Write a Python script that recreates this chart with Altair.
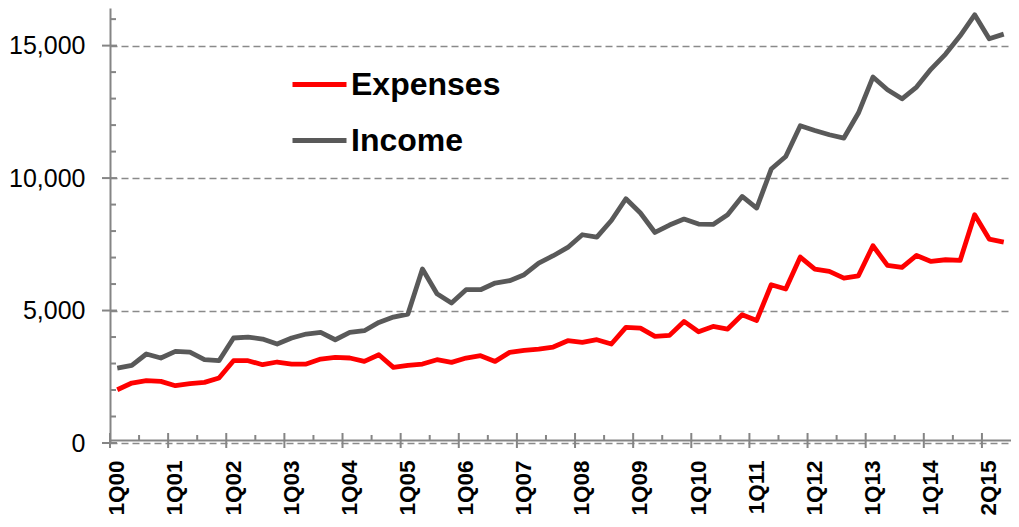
import json
import altair as alt
import pandas as pd

# ---- data -------------------------------------------------------------
quarters = [f"{q}Q{y:02d}" for y in range(0, 16) for q in (1, 2, 3, 4)][:62]

expenses = [2011, 2264, 2351, 2325, 2163, 2238, 2287, 2453, 3106, 3106,
            2955, 3057, 2981, 2981, 3170, 3231, 3208, 3080, 3332, 2853,
            2929, 2981, 3144, 3043, 3208, 3295, 3080, 3420, 3495, 3547,
            3623, 3861, 3798, 3898, 3736, 4364, 4339, 4024, 4062, 4590,
            4200, 4401, 4301, 4842, 4627, 5974, 5811, 7019, 6567, 6476,
            6226, 6313, 7446, 6702, 6627, 7080, 6853, 6917, 6891, 8616,
            7699, 7586]

income = [2830, 2929, 3359, 3208, 3457, 3434, 3144, 3106, 3963, 4000,
          3925, 3736, 3963, 4114, 4174, 3898, 4174, 4238, 4551, 4755,
          4868, 6567, 5635, 5283, 5786, 5786, 6038, 6125, 6352, 6793,
          7069, 7382, 7861, 7774, 8400, 9220, 8680, 7948, 8227, 8454,
          8265, 8250, 8616, 9307, 8869, 10341, 10816, 11975, 11798, 11635,
          11510, 12454, 13813, 13334, 12994, 13435, 14115, 14681, 15371, 16162,
          15259, 15435]

series_names = ["Expenses", "Income"]
series_colors = ["#FF0000", "#595959"]

tick_labels = ["1Q00", "1Q01", "1Q02", "1Q03", "1Q04", "1Q05", "1Q06", "1Q07",
               "1Q08", "1Q09", "1Q10", "1Q11", "1Q12", "1Q13", "1Q14", "2Q15"]
label_at = quarters[0::4]          # categories that carry a tick label
minor_at = quarters[2::4]          # categories with a minor tick

y_grid = [0, 5000, 10000, 15000]
y_minor = [v for v in range(1000, 17000, 1000) if v % 5000 != 0]

# ---- frames -----------------------------------------------------------
df = pd.DataFrame({
    "quarter": quarters * 2,
    "value": expenses + income,
    "series": ["Expenses"] * len(quarters) + ["Income"] * len(quarters),
})
df_major_x = pd.DataFrame({"quarter": label_at})
df_minor_x = pd.DataFrame({"quarter": minor_at})
df_major_y = pd.DataFrame({"value": y_grid})
df_minor_y = pd.DataFrame({"value": y_minor})

W, H = 901, 435
FONT = "Liberation Sans"
AXIS_GRAY = "#858585"

x_scale = alt.Scale(type="band", domain=quarters, paddingInner=0, paddingOuter=0)
y_scale = alt.Scale(domain=[0, 16420], nice=False, zero=True)

label_expr = f"{json.dumps(tick_labels)}[indexof({json.dumps(label_at)}, datum.value)]"

x_axis = alt.Axis(values=label_at, labelExpr=label_expr, title=None,
                  labelAngle=270, labelFont=FONT, labelFontSize=22.5,
                  labelFontWeight="bold", labelColor="#000000",
                  labelPadding=20, ticks=False, grid=False,
                  domain=True, domainColor=AXIS_GRAY, domainWidth=2,
                  offset=-3, labelOverlap=False)
y_axis = alt.Axis(values=y_grid, format=",d", title=None,
                  labelFont=FONT, labelFontSize=25, labelColor="#000000",
                  labelPadding=25, ticks=False,
                  grid=True, gridDash=[7, 4], gridColor="#8a8a8a",
                  gridWidth=1.5, domain=True, domainColor=AXIS_GRAY,
                  domainWidth=2)

lines = alt.Chart(df).mark_line(strokeWidth=4.8, strokeJoin="round").encode(
    x=alt.X("quarter:O", scale=x_scale, sort=quarters, axis=x_axis),
    y=alt.Y("value:Q", scale=y_scale, axis=y_axis),
    color=alt.Color("series:N",
                    scale=alt.Scale(domain=series_names, range=series_colors),
                    legend=alt.Legend(orient="none", legendX=180, legendY=47,
                                      title=None, symbolType="stroke",
                                      symbolSize=2916, symbolStrokeWidth=5,
                                      labelFont=FONT, labelFontSize=32,
                                      labelFontWeight="bold", labelColor="#000000",
                                      labelOffset=2, rowPadding=10, padding=0)),
)

tick_major_x = alt.Chart(df_major_x).mark_rule(color=AXIS_GRAY, strokeWidth=2).encode(
    x=alt.X("quarter:O", scale=x_scale, bandPosition=0, axis=x_axis),
    y=alt.value(H - 10), y2=alt.value(H + 5))
tick_minor_x = alt.Chart(df_minor_x).mark_rule(color=AXIS_GRAY, strokeWidth=2).encode(
    x=alt.X("quarter:O", scale=x_scale, bandPosition=0, axis=x_axis),
    y=alt.value(H - 8), y2=alt.value(H - 3))
tick_major_y = alt.Chart(df_major_y).mark_rule(color=AXIS_GRAY, strokeWidth=2).encode(
    y=alt.Y("value:Q", scale=y_scale, axis=y_axis),
    x=alt.value(-8), x2=alt.value(7))
tick_minor_y = alt.Chart(df_minor_y).mark_rule(color=AXIS_GRAY, strokeWidth=2).encode(
    y=alt.Y("value:Q", scale=y_scale, axis=y_axis),
    x=alt.value(0), x2=alt.value(6))

chart = alt.layer(lines, tick_major_x, tick_minor_x, tick_major_y, tick_minor_y).properties(
    width=W, height=H,
    autosize=alt.AutoSizeParams(type="none"),
    padding={"left": 102, "top": 0, "right": 0, "bottom": 76},
    background="white",
).configure_view(stroke=None)

chart.save("out.html", embed_options={"renderer": "svg", "actions": False})
